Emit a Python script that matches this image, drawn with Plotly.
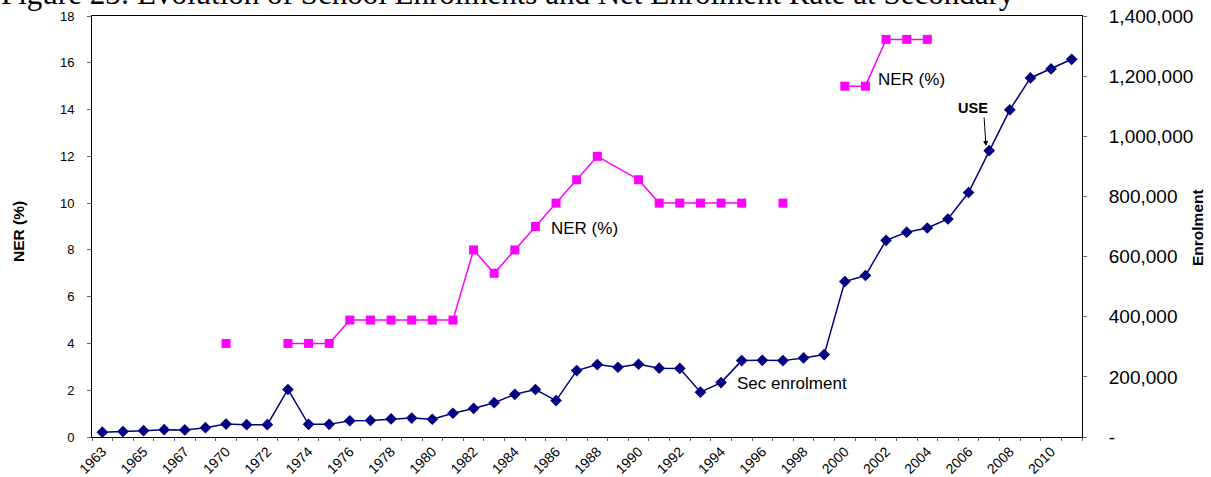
import plotly.graph_objects as go

years = ["1963", "1964", "1965", "1966", "1967", "1969", "1970", "1971", "1972", "1973",
         "1974", "1975", "1976", "1977", "1978", "1979", "1980", "1981", "1982", "1983",
         "1984", "1985", "1986", "1987", "1988", "1989", "1990", "1991", "1992", "1993",
         "1994", "1995", "1996", "1997", "1998", "1999", "2000", "2001", "2002", "2003",
         "2004", "2005", "2006", "2007", "2008", "2009", "2010", "2011"]

ner = [None, None, None, None, None, None, 4, None, None, 4,
       4, 4, 5, 5, 5, 5, 5, 5, 8, 7,
       8, 9, 10, 11, 12, None, 11, 10, 10, 10,
       10, 10, None, 10, None, None, 15, 15, 17, 17,
       17, None, None, None, None, None, None, None]

enrolment = [16000, 18000, 21000, 24500, 23500, 31000, 43000, 41000, 41000, 158000,
             42000, 42000, 54000, 55000, 60000, 63000, 59000, 79000, 95000, 114000,
             142000, 158000, 121000, 221000, 241000, 232000, 242000, 229000, 228000, 149000,
             181000, 254000, 255000, 254000, 263000, 274000, 517000, 537000, 654000, 681000,
             695000, 725000, 813000, 952000, 1088000, 1194000, 1224000, 1256000]

# NER line bridges the missing 1989 value
bridge_years = ["1988", "1990"]

ner_ticks = [0, 2, 4, 6, 8, 10, 12, 14, 16, 18]
enrol_ticks = [0, 200000, 400000, 600000, 800000, 1000000, 1200000, 1400000]
enrol_ticktext = ["-" if v == 0 else f"{v:,}" for v in enrol_ticks]
x_ticktext = [y if i % 2 == 0 else "" for i, y in enumerate(years)]

NAVY = "#000080"
MAGENTA = "#FF00FF"

fig = go.Figure()

fig.add_trace(go.Scatter(
    x=bridge_years, y=[ner[years.index(y)] for y in bridge_years],
    mode="lines", line=dict(color=MAGENTA, width=1.5), yaxis="y",
    showlegend=False, hoverinfo="skip"))

fig.add_trace(go.Scatter(
    x=years, y=ner, mode="lines+markers", connectgaps=False,
    line=dict(color=MAGENTA, width=1.5),
    marker=dict(symbol="square", size=9, color=MAGENTA),
    name="NER (%)", yaxis="y", showlegend=False))

fig.add_trace(go.Scatter(
    x=years, y=enrolment, mode="lines+markers",
    line=dict(color=NAVY, width=1.5),
    marker=dict(symbol="diamond", size=9, color=NAVY),
    name="Sec enrolment", yaxis="y2", showlegend=False))

L, R, T, B = 92, 1082, 16, 437
W, H = 1211, 477


def px(xp):
    return (xp - L) / (R - L)


def py(yp):
    return (B - yp) / (B - T)


annotations = [
    dict(text="Figure 23: Evolution of School Enrolments and Net Enrolment Rate at Secondary",
         x=px(-1), y=py(-7), xref="paper", yref="paper", xanchor="left", yanchor="middle",
         showarrow=False, font=dict(family="Liberation Serif, Times New Roman, serif", size=31, color="black")),
    dict(text="<b>NER (%)</b>", x=px(19), y=py(232), xref="paper", yref="paper",
         textangle=-90, showarrow=False, xanchor="center", yanchor="middle",
         font=dict(family="Liberation Sans, Arial", size=15.5, color="black")),
    dict(text="<b>Enrolment</b>", x=px(1197), y=py(228), xref="paper", yref="paper",
         textangle=-90, showarrow=False, xanchor="center", yanchor="middle",
         font=dict(family="Liberation Sans, Arial", size=15.5, color="black")),
    dict(text="NER (%)", x=px(549), y=py(228), xref="paper", yref="paper",
         xanchor="left", yanchor="middle", showarrow=False,
         font=dict(family="Liberation Sans, Arial", size=17, color="black")),
    dict(text="NER (%)", x=px(876), y=py(80), xref="paper", yref="paper",
         xanchor="left", yanchor="middle", showarrow=False,
         font=dict(family="Liberation Sans, Arial", size=17, color="black")),
    dict(text="Sec enrolment", x=px(735), y=py(383), xref="paper", yref="paper",
         xanchor="left", yanchor="middle", showarrow=False,
         font=dict(family="Liberation Sans, Arial", size=17, color="black")),
    dict(text="<b>USE</b>", x=px(973), y=py(108), xref="paper", yref="paper",
         xanchor="center", yanchor="middle", showarrow=False,
         font=dict(family="Liberation Sans, Arial", size=14.5, color="black")),
    dict(text="", x=px(986), y=py(146), xref="paper", yref="paper",
         showarrow=True, ax=-2, ay=-30, arrowhead=2, arrowsize=1, arrowwidth=1,
         arrowcolor="black"),
]

fig.update_layout(
    width=W, height=H,
    margin=dict(l=L, r=W - R, t=T, b=H - B, pad=0, autoexpand=False),
    paper_bgcolor="white", plot_bgcolor="white",
    font=dict(family="Liberation Sans, Arial", color="black"),
    xaxis=dict(type="category", categoryorder="array", categoryarray=years,
               tickmode="array", tickvals=years, ticktext=x_ticktext,
               tickson="boundaries", ticks="outside", ticklen=3, tickcolor="#666",
               tickangle=-45, tickfont=dict(size=14), automargin=False,
               showline=True, linecolor="black", linewidth=1, mirror=True,
               showgrid=False, zeroline=False, range=[-0.5, len(years) - 0.5]),
    yaxis=dict(range=[0, 18], tickmode="array", tickvals=ner_ticks,
               ticks="outside", ticklen=4, tickcolor="#666", tickfont=dict(size=13),
               ticklabelstandoff=10, automargin=False,
               showline=True, linecolor="black", linewidth=1,
               showgrid=False, zeroline=False),
    yaxis2=dict(range=[0, 1400000], overlaying="y", side="right",
                tickmode="array", tickvals=enrol_ticks, ticktext=enrol_ticktext,
                ticks="outside", ticklen=4, tickcolor="#666", tickfont=dict(size=19),
                ticklabelstandoff=18, automargin=False,
                showline=True, linecolor="black", linewidth=1,
                showgrid=False, zeroline=False),
    annotations=annotations,
)

fig.write_html("out.html", config={"displayModeBar": False},
               post_script="document.body.style.margin='0';document.body.style.overflow='hidden';")
